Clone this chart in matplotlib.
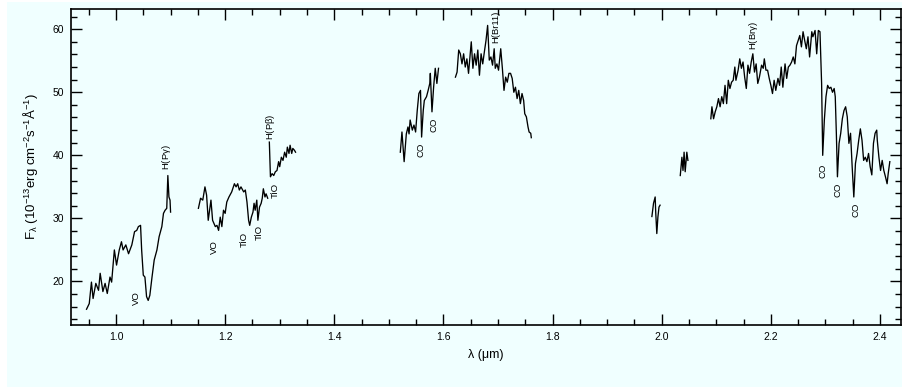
import numpy as np
import matplotlib
matplotlib.use("Agg")
import matplotlib.pyplot as plt
from matplotlib.ticker import MultipleLocator
from matplotlib.patches import Rectangle

plt.rcParams['font.family'] = ['Liberation Sans', 'DejaVu Sans']
plt.rcParams['mathtext.fontset'] = 'custom'
plt.rcParams['mathtext.rm'] = 'Liberation Sans'
plt.rcParams['mathtext.it'] = 'Liberation Sans'

###########################################################################################
# espectro, trechos separados

# trecho 1 - banda z/J
wl_1 = [0.946, 0.951, 0.955, 0.958, 0.963, 0.968, 0.971, 0.976, 0.980, 0.984, 0.989, 0.992,
        0.997, 1.001, 1.006, 1.010, 1.013, 1.018, 1.023, 1.029, 1.034, 1.038, 1.041, 1.045,
        1.047, 1.050, 1.053, 1.056, 1.059, 1.062, 1.066, 1.070, 1.075, 1.079, 1.084, 1.087,
        1.090, 1.093, 1.095, 1.097, 1.099, 1.100]
fx_1 = [15.6, 16.5, 19.9, 17.3, 19.7, 18.6, 21.3, 18.4, 19.7, 18.1, 20.7, 19.9,
        25.0, 22.6, 25.0, 26.3, 25.0, 25.8, 24.4, 25.8, 27.9, 28.1, 28.7, 28.9,
        25.0, 21.0, 20.7, 17.6, 17.0, 17.8, 20.7, 23.4, 25.0, 27.1, 28.7, 30.8,
        31.3, 31.6, 36.8, 33.4, 32.9, 31.0]

# trecho 2 - banda J
wl_2 = [1.151, 1.155, 1.159, 1.163, 1.166, 1.169, 1.174, 1.177, 1.182, 1.185, 1.188, 1.191,
        1.194, 1.197, 1.200, 1.203, 1.207, 1.212, 1.217, 1.220, 1.223, 1.226, 1.229, 1.234,
        1.237, 1.240, 1.243, 1.245, 1.248, 1.251, 1.253, 1.255, 1.258, 1.260, 1.263, 1.266,
        1.268, 1.270, 1.273, 1.275, 1.278]
fx_2 = [31.6, 33.2, 32.9, 35.0, 33.7, 29.7, 32.9, 29.7, 28.7, 28.9, 28.1, 30.2,
        28.7, 31.3, 30.8, 32.6, 33.4, 34.2, 35.5, 35.0, 35.5, 34.5, 35.0, 34.2,
        34.5, 32.6, 29.7, 28.9, 30.2, 31.0, 32.4, 31.3, 32.9, 29.7, 31.8, 32.4,
        33.2, 34.7, 33.4, 33.9, 33.2]

# trecho 3 - Pbeta em diante
wl_3 = [1.281, 1.283, 1.286, 1.289, 1.292, 1.295, 1.298, 1.300, 1.303, 1.306, 1.309, 1.312,
        1.314, 1.317, 1.319, 1.322, 1.324, 1.327, 1.329]
fx_3 = [42.1, 36.6, 37.1, 36.8, 37.4, 37.6, 39.0, 38.2, 39.7, 39.2, 40.5, 39.7,
        41.3, 40.3, 41.6, 40.3, 41.1, 40.8, 40.5]

# trecho 4 - banda H (inicio)
wl_4 = [1.521, 1.524, 1.528, 1.532, 1.535, 1.537, 1.539, 1.543, 1.546, 1.549, 1.552, 1.555,
        1.558, 1.560, 1.563, 1.565, 1.569, 1.572, 1.575, 1.576, 1.579, 1.582, 1.585, 1.588,
        1.591]
fx_4 = [40.5, 43.7, 39.0, 43.4, 44.5, 43.4, 45.6, 44.0, 44.8, 43.7, 47.1, 49.8,
        50.3, 42.9, 47.1, 48.7, 49.3, 50.3, 51.4, 53.0, 46.9, 50.8, 53.8, 51.4,
        53.8]

# trecho 5 - banda H
wl_5 = [1.622, 1.625, 1.628, 1.631, 1.634, 1.637, 1.640, 1.643, 1.646, 1.651, 1.654, 1.657,
        1.660, 1.663, 1.666, 1.669, 1.672, 1.675, 1.678, 1.681, 1.684, 1.687, 1.690, 1.693,
        1.695, 1.698, 1.701, 1.705, 1.708, 1.711, 1.714, 1.717, 1.720, 1.723, 1.726, 1.729,
        1.732, 1.735, 1.738, 1.741, 1.744, 1.747, 1.749, 1.752, 1.755, 1.757, 1.760, 1.761]
fx_5 = [52.4, 53.2, 56.7, 56.1, 54.5, 56.1, 54.0, 55.3, 53.0, 58.0, 53.8, 56.1,
        54.3, 56.7, 52.7, 56.1, 54.5, 56.4, 58.2, 60.6, 55.1, 55.6, 54.3, 56.9,
        53.8, 54.5, 53.5, 56.9, 53.8, 50.3, 52.4, 51.6, 53.0, 53.0, 52.2, 50.0,
        50.8, 49.0, 50.3, 48.2, 49.8, 48.7, 46.6, 46.1, 44.5, 43.7, 43.5, 42.8]

# trechos 6 e 7 - pedacos soltos
wl_6 = [1.982, 1.985, 1.988, 1.989, 1.991, 1.993, 1.995, 1.997]
fx_6 = [30.3, 32.4, 33.4, 31.0, 27.6, 30.2, 31.8, 32.1]
wl_7 = [2.034, 2.037, 2.039, 2.041, 2.043, 2.046, 2.048]
fx_7 = [36.8, 39.7, 37.6, 40.5, 37.4, 40.5, 39.2]

# trecho 8 - banda K
wl_8 = [2.090, 2.092, 2.095, 2.098, 2.101, 2.104, 2.107, 2.110, 2.113, 2.116, 2.119, 2.122,
        2.125, 2.128, 2.131, 2.134, 2.136, 2.140, 2.143, 2.146, 2.149, 2.152, 2.155, 2.158,
        2.161, 2.164, 2.167, 2.170, 2.173, 2.176, 2.179, 2.183, 2.186, 2.188, 2.191, 2.194,
        2.197, 2.200, 2.203, 2.206, 2.209, 2.213, 2.216, 2.219, 2.222, 2.226, 2.229, 2.232,
        2.235, 2.238, 2.241, 2.244, 2.247, 2.250, 2.253, 2.256, 2.259, 2.262, 2.265, 2.268,
        2.271, 2.275, 2.277, 2.281, 2.284, 2.287, 2.290, 2.293, 2.295, 2.298, 2.301, 2.304,
        2.307, 2.310, 2.313, 2.316, 2.318, 2.320, 2.322, 2.325, 2.328, 2.331, 2.334, 2.337,
        2.340, 2.343, 2.346, 2.349, 2.352, 2.355, 2.358, 2.361, 2.364, 2.367, 2.370, 2.373,
        2.376, 2.379, 2.382, 2.385, 2.388, 2.391, 2.394, 2.395, 2.398, 2.401, 2.404, 2.407,
        2.410, 2.413, 2.415, 2.418]
fx_8 = [45.8, 47.7, 45.8, 46.9, 47.7, 49.0, 47.7, 49.3, 48.2, 51.1, 48.2, 51.9,
        50.6, 51.6, 51.9, 54.0, 51.9, 53.5, 55.3, 53.8, 54.8, 52.4, 50.6, 54.3,
        53.0, 54.8, 56.1, 53.2, 54.5, 51.4, 52.4, 54.3, 53.8, 55.3, 53.5, 53.5,
        52.2, 51.1, 49.8, 51.9, 50.3, 52.2, 51.1, 54.0, 50.8, 54.5, 52.2, 54.0,
        54.3, 54.8, 55.6, 54.5, 57.4, 58.2, 59.0, 57.2, 59.6, 58.2, 56.9, 58.8,
        55.6, 59.6, 58.8, 59.8, 56.1, 59.8, 59.6, 51.4, 40.0, 45.6, 49.3, 51.1,
        50.6, 50.8, 50.0, 50.6, 49.3, 43.5, 36.6, 41.9, 43.5, 45.8, 47.1, 47.7,
        46.1, 41.9, 43.5, 38.2, 33.4, 38.7, 40.3, 42.4, 44.2, 42.4, 39.2, 39.7,
        39.0, 40.3, 38.2, 36.9, 41.9, 43.5, 44.0, 42.4, 39.7, 37.6, 39.2, 37.6,
        36.6, 35.5, 37.1, 39.0]

trechos = [(wl_1, fx_1), (wl_2, fx_2), (wl_3, fx_3), (wl_4, fx_4),
           (wl_5, fx_5), (wl_6, fx_6), (wl_7, fx_7), (wl_8, fx_8)]

# identificacao das linhas: texto, lambda, fluxo
rotulos = ['VO', 'H(P$\\gamma$)', 'VO', 'TiO', 'TiO', 'TiO', 'H(P$\\beta$)',
           'CO', 'CO', 'H(Br11)', 'H(Br$\\gamma$)', 'CO', 'CO', 'CO']
rot_wl = [1.038, 1.093, 1.180, 1.235, 1.263, 1.292, 1.283,
          1.559, 1.582, 1.695, 2.169, 2.296, 2.323, 2.356]
rot_fx = [17.3, 39.7, 25.5, 26.6, 27.7, 34.5, 44.6,
          40.8, 44.8, 60.3, 59.0, 37.6, 34.5, 31.3]

###########################################################################################
# plotagem

fundo = '#f0ffff'
fig = plt.figure(figsize=(9.03, 3.87), dpi=100, facecolor='white')
fig.patches.append(Rectangle((7 / 903, 0), 1, 385 / 387, transform=fig.transFigure,
                             facecolor=fundo, edgecolor='none', zorder=-10))
ax = fig.add_axes([0.0783, 0.1602, 0.9195, 0.8165])
ax.set_facecolor(fundo)

for wl, fx in trechos:
    ax.plot(wl, fx, color='black', lw=0.95)

for txt, x, y in zip(rotulos, rot_wl, rot_fx):
    ax.text(x, y, txt, rotation=90, ha='center', va='center', fontsize=6.8)

ax.set_xlim(0.917, 2.4385)
ax.set_ylim(13.1, 63.2)
ax.xaxis.set_major_locator(MultipleLocator(0.2))
ax.xaxis.set_minor_locator(MultipleLocator(0.05))
ax.yaxis.set_major_locator(MultipleLocator(10))
ax.yaxis.set_minor_locator(MultipleLocator(2))
ax.xaxis.set_major_formatter(plt.FuncFormatter(lambda v, p: f'{v:.1f}'))
ax.tick_params(which='both', direction='in', top=True, right=True, width=1.0)
ax.tick_params(which='major', length=8, labelsize=7.5, pad=5)
ax.tick_params(which='minor', length=4)
for s in ax.spines.values():
    s.set_linewidth(1.2)

ax.set_xlabel('λ (μm)', fontsize=9, labelpad=5)
ax.set_ylabel('F$_\\lambda$ (10$^{-13}$erg cm$^{-2}$s$^{-1}$Å$^{-1}$)', fontsize=9.5, labelpad=9)

fig.savefig('out.png', dpi=100, facecolor=fig.get_facecolor())
